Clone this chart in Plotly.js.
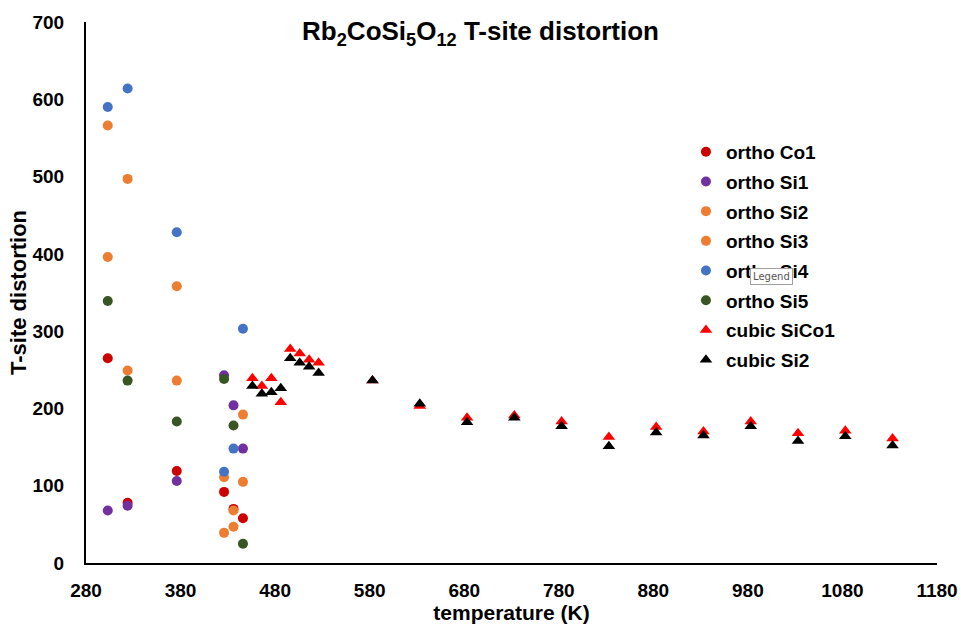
<!DOCTYPE html>
<html>
<head>
<meta charset="utf-8">
<script src="https://cdn.plot.ly/plotly-3.0.1.min.js"></script>
<style>
  html, body { margin: 0; padding: 0; background: #fff; }
  #chart { width: 961px; height: 626px; }
</style>
</head>
<body>
<div id="chart"></div>
<script>
// temperatures (K) of the orthorhombic refinements
const orthoTemps = [303, 324, 376, 426, 436, 446];
const orthoCo1 = [265, 78, 119, 92, 70, 58];
const orthoSi1 = [68, 74, 106, 243, 204, 148];
const orthoSi2 = [566, 497, 358, 111, 68, 192];
const orthoSi3 = [396, 249, 236, 39, 47, 105];
const orthoSi4 = [590, 614, 428, 118, 148, 303];
const orthoSi5 = [339, 236, 183, 238, 178, 25];

// cubic phase
const cubicTemps = [456, 466, 476, 486, 496, 506, 516, 526, 583, 633, 683, 733, 783, 833, 883, 933, 983, 1033, 1083, 1133];
const cubicSiCo1 = [239, 229, 239, 208, 277, 271, 263, 259, 236, 203, 188, 191, 183, 163, 176, 170, 183, 168, 171, 161];
const cubicSi2 = [229, 219, 221, 226, 265, 259, 254, 246, 236, 206, 182, 188, 177, 151, 169, 165, 177, 158, 164, 152];

const xTicks = [280, 380, 480, 580, 680, 780, 880, 980, 1080, 1180];
const yTicks = [0, 100, 200, 300, 400, 500, 600, 700];

const narrow = "'Liberation Sans Narrow', 'Arial Narrow', 'Liberation Sans', Arial, sans-serif";
const wide = "'Liberation Sans', Arial, sans-serif";

const orthoTrace = (name, y, color) => ({
  x: orthoTemps,
  y: y,
  type: "scatter",
  mode: "markers",
  name: name,
  legendgroup: name,
  marker: { color: color, size: 10, symbol: "circle" }
});

const cubicTrace = (name, y, color) => ({
  x: cubicTemps,
  y: y,
  type: "scatter",
  mode: "markers",
  name: name,
  legendgroup: name,
  marker: { color: color, size: 11, symbol: "triangle-up" }
});

const data = [
  orthoTrace("ortho Co1", orthoCo1, "#CC0000"),
  orthoTrace("ortho Si1", orthoSi1, "#7030A0"),
  orthoTrace("ortho Si2", orthoSi2, "#ED7D31"),
  orthoTrace("ortho Si3", orthoSi3, "#ED7D31"),
  orthoTrace("ortho Si4", orthoSi4, "#4472C4"),
  orthoTrace("ortho Si5", orthoSi5, "#375623"),
  cubicTrace("cubic SiCo1", cubicSiCo1, "#FF0000"),
  cubicTrace("cubic Si2", cubicSi2, "#000000")
];

const layout = {
  width: 961,
  height: 626,
  margin: { l: 86, r: 24, t: 22, b: 63 },
  paper_bgcolor: "#ffffff",
  plot_bgcolor: "#ffffff",
  title: {
    text: "Rb<sub>2</sub>CoSi<sub>5</sub>O<sub>12</sub> T-site distortion",
    x: 0.5,
    xanchor: "center",
    y: 0.95,
    yanchor: "middle",
    font: { family: wide, size: 26, color: "#000", weight: 700 }
  },
  xaxis: {
    range: [280, 1180],
    tickvals: xTicks,
    ticktext: xTicks.map(String),
    showgrid: false,
    zeroline: false,
    showline: true,
    linecolor: "#000",
    linewidth: 2,
    ticks: "",
    ticklabelstandoff: 9,
    tickfont: { family: narrow, size: 19, color: "#000", weight: 700 },
    title: {
      text: "temperature (K)",
      standoff: 6,
      font: { family: narrow, size: 21, color: "#000", weight: 700 }
    }
  },
  yaxis: {
    range: [0, 700],
    tickvals: yTicks,
    ticktext: yTicks.map(String),
    showgrid: false,
    zeroline: false,
    showline: true,
    linecolor: "#000",
    linewidth: 2,
    ticks: "",
    ticklabelstandoff: 16,
    tickfont: { family: narrow, size: 19, color: "#000", weight: 700 },
    title: {
      text: "T-site distortion",
      standoff: 0,
      font: { family: wide, size: 22, color: "#000", weight: 700 }
    }
  },
  showlegend: true,
  legend: {
    x: 0.705,
    y: 0.795,
    xanchor: "left",
    yanchor: "top",
    traceorder: "grouped",
    tracegroupgap: 2,
    itemwidth: 30,
    bgcolor: "rgba(0,0,0,0)",
    font: { family: wide, size: 19, color: "#000", weight: 700 }
  },
  annotations: [{
    text: "Legend",
    xref: "paper",
    yref: "paper",
    x: (771 - 86) / 851,
    y: (563 - 276) / 541,
    xanchor: "center",
    yanchor: "middle",
    showarrow: false,
    bgcolor: "#ffffff",
    bordercolor: "#a0a0a0",
    borderwidth: 1,
    borderpad: 2,
    font: { family: "'DejaVu Sans', sans-serif", size: 10, color: "#555" }
  }]
};

Plotly.newPlot("chart", data, layout, { displayModeBar: false, staticPlot: true });
</script>
</body>
</html>
